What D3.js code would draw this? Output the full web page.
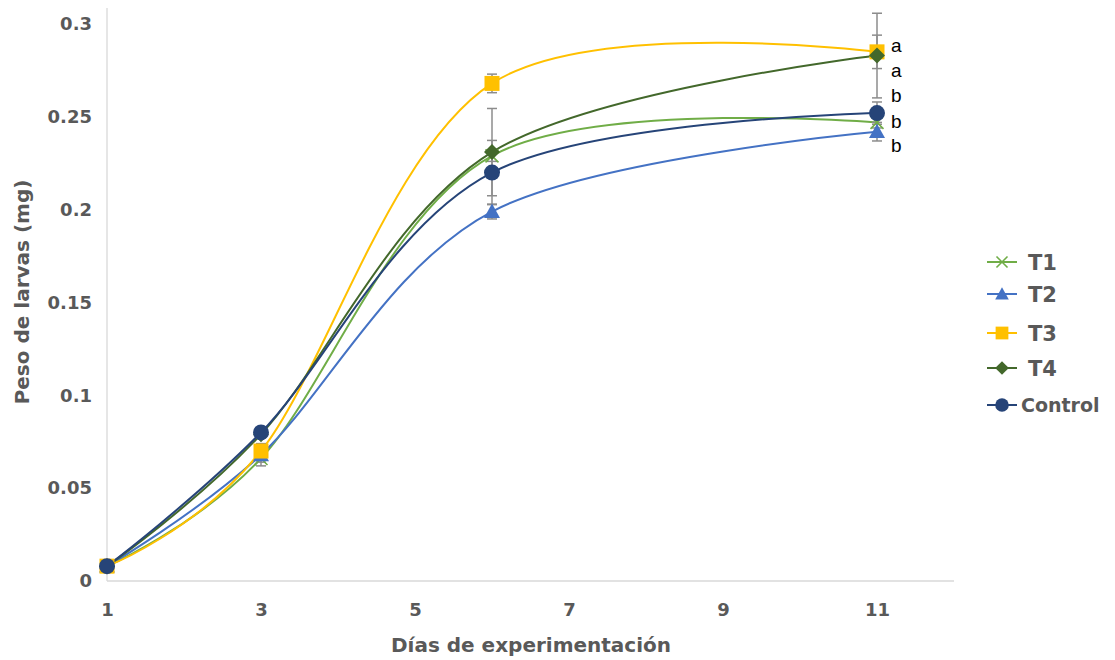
<!DOCTYPE html>
<html>
<head>
<meta charset="utf-8">
<script src="https://cdn.jsdelivr.net/npm/d3@7"></script>
<style>
  html, body { margin: 0; padding: 0; background: #fff; }
  svg { display: block; }
</style>
</head>
<body>
<svg id="chart" width="1115" height="660"></svg>
<script>
// Días de muestreo
const days = [1, 3, 6, 11];

// Peso medio de larvas (mg) por tratamiento
const t1 = [0.008, 0.066, 0.229, 0.247];
const t2 = [0.008, 0.068, 0.199, 0.242];
const t3 = [0.008, 0.070, 0.268, 0.285];
const t4 = [0.008, 0.079, 0.231, 0.283];
const control = [0.008, 0.080, 0.220, 0.252];

// Desviación (barras de error)
const t1Err = [0.001, 0.002, 0.003, 0.003];
const t2Err = [0.001, 0.006, 0.004, 0.005];
const t3Err = [0.001, 0.002, 0.005, 0.009];
const t4Err = [0.001, 0.002, 0.0235, 0.0228];
const controlErr = [0.001, 0.002, 0.0173, 0.006];

// Letras de significancia en el día 11
const sigLetters = ["a", "a", "b", "b", "b"];
const sigValues = [0.2885, 0.2748, 0.2615, 0.2475, 0.2345];

const xTicks = [1, 3, 5, 7, 9, 11];
const yTicks = [0, 0.05, 0.1, 0.15, 0.2, 0.25, 0.3];

const series = [
  { name: "T1", values: t1, err: t1Err, color: "#70AD47", marker: "x" },
  { name: "T2", values: t2, err: t2Err, color: "#4472C4", marker: "triangle" },
  { name: "T3", values: t3, err: t3Err, color: "#FFC000", marker: "square" },
  { name: "T4", values: t4, err: t4Err, color: "#43682B", marker: "diamond" },
  { name: "Control", values: control, err: controlErr, color: "#264478", marker: "circle" }
];

const svg = d3.select("#chart");
const axisFont = "'DejaVu Sans', 'Open Sans', sans-serif";
const gray = "#595959";

const x = d3.scaleLinear().domain([1, 12]).range([107, 954]);
const y = d3.scaleLinear().domain([0, 0.3]).range([581, 24]);

// Ejes
svg.append("line")
  .attr("x1", x(1)).attr("x2", x(1))
  .attr("y1", 8).attr("y2", y(0))
  .attr("stroke", "#D9D9D9").attr("stroke-width", 1.3);
svg.append("line")
  .attr("x1", x(1)).attr("x2", x(12))
  .attr("y1", y(0)).attr("y2", y(0))
  .attr("stroke", "#D9D9D9").attr("stroke-width", 1.3);

const yAxis = svg.append("g")
  .attr("transform", `translate(${x(1) - 12},0)`)
  .call(d3.axisLeft(y).tickValues(yTicks).tickSize(0).tickFormat(d => d3.format("")(+d.toFixed(2))));
yAxis.select(".domain").remove();
yAxis.selectAll("text")
  .attr("fill", gray)
  .style("font-family", axisFont)
  .style("font-weight", "bold")
  .style("font-size", "18px");

const xAxis = svg.append("g")
  .attr("transform", `translate(0,${y(0) + 19})`)
  .call(d3.axisBottom(x).tickValues(xTicks).tickSize(0).tickFormat(d3.format("d")));
xAxis.select(".domain").remove();
xAxis.selectAll("text")
  .attr("fill", gray)
  .style("font-family", axisFont)
  .style("font-weight", "bold")
  .style("font-size", "18px");

// Títulos de ejes
svg.append("text")
  .attr("x", 531).attr("y", 652)
  .attr("text-anchor", "middle")
  .attr("fill", gray)
  .style("font-family", axisFont)
  .style("font-weight", "bold")
  .style("font-size", "20px")
  .text("Días de experimentación");

svg.append("text")
  .attr("transform", "translate(29,292) rotate(-90)")
  .attr("text-anchor", "middle")
  .attr("fill", gray)
  .style("font-family", axisFont)
  .style("font-weight", "bold")
  .style("font-size", "20px")
  .text("Peso de larvas (mg)");

// Líneas suavizadas
const line = d3.line()
  .x((d, i) => x(days[i]))
  .y(d => y(d))
  .curve(d3.curveCatmullRom.alpha(0));

series.forEach(s => {
  svg.append("path")
    .datum(s.values)
    .attr("d", line)
    .attr("fill", "none")
    .attr("stroke", s.color)
    .attr("stroke-width", 2);
});

// Barras de error
const errG = svg.append("g").attr("stroke", "#8C8C8C").attr("stroke-width", 1.5);
series.forEach(s => {
  s.values.forEach((v, i) => {
    const cx = x(days[i]);
    const lo = y(v - s.err[i]);
    const hi = y(v + s.err[i]);
    errG.append("line").attr("x1", cx).attr("x2", cx).attr("y1", lo).attr("y2", hi);
    errG.append("line").attr("x1", cx - 5).attr("x2", cx + 5).attr("y1", lo).attr("y2", lo);
    errG.append("line").attr("x1", cx - 5).attr("x2", cx + 5).attr("y1", hi).attr("y2", hi);
  });
});

// Marcadores
function drawMarker(g, type, cx, cy, color, scale) {
  const k = scale || 1;
  if (type === "circle") {
    g.append("circle").attr("cx", cx).attr("cy", cy).attr("r", 8 * k).attr("fill", color);
  } else if (type === "square") {
    g.append("rect").attr("x", cx - 7.5 * k).attr("y", cy - 7.5 * k)
      .attr("width", 15 * k).attr("height", 15 * k).attr("fill", color);
  } else if (type === "diamond") {
    const r = 8 * k;
    g.append("path").attr("d", `M${cx},${cy - r}L${cx + r},${cy}L${cx},${cy + r}L${cx - r},${cy}Z`).attr("fill", color);
  } else if (type === "triangle") {
    const r = 8 * k;
    g.append("path").attr("d", `M${cx},${cy - r}L${cx + r},${cy + r * 0.8}L${cx - r},${cy + r * 0.8}Z`).attr("fill", color);
  } else if (type === "x") {
    const r = 6.5 * k;
    g.append("path").attr("d", `M${cx - r},${cy - r}L${cx + r},${cy + r}M${cx - r},${cy + r}L${cx + r},${cy - r}`)
      .attr("stroke", color).attr("stroke-width", 1.6).attr("fill", "none");
  }
}

series.forEach(s => {
  const g = svg.append("g");
  s.values.forEach((v, i) => drawMarker(g, s.marker, x(days[i]), y(v), s.color));
});

// Letras de significancia
svg.append("g").selectAll("text")
  .data(sigLetters)
  .join("text")
  .attr("x", x(11) + 14)
  .attr("y", (d, i) => y(sigValues[i]))
  .attr("dy", "0.35em")
  .attr("fill", "#000")
  .style("font-family", "'Liberation Sans', 'Open Sans', sans-serif")
  .style("font-size", "19px")
  .text(d => d);

// Leyenda
const legendY = [262, 294, 333, 368, 405];
const legend = svg.append("g");
series.forEach((s, i) => {
  const ly = legendY[i];
  legend.append("line")
    .attr("x1", 987).attr("x2", 1017).attr("y1", ly).attr("y2", ly)
    .attr("stroke", s.color).attr("stroke-width", 2);
  drawMarker(legend, s.marker, 1002, ly, s.color, 0.85);
  legend.append("text")
    .attr("x", s.name === "Control" ? 1021 : 1028)
    .attr("y", ly)
    .attr("dy", "0.36em")
    .attr("fill", gray)
    .style("font-family", axisFont)
    .style("font-weight", "bold")
    .style("font-size", s.name === "Control" ? "19px" : "21px")
    .text(s.name);
});
</script>
</body>
</html>
